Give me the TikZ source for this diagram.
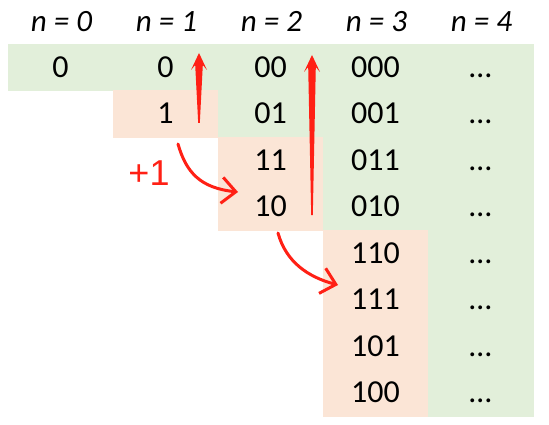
\documentclass[tikz,border=0pt]{standalone}
\usepackage{fontspec}
\setmainfont{Carlito}
\newfontfamily\inkfont{Liberation Sans}
\usepackage{xcolor}
\usepackage{tikz}
\usetikzlibrary{arrows.meta,calc}
\definecolor{cKeepF}{HTML}{E2EFDA}
\definecolor{cFlipF}{HTML}{FBE5D6}
\definecolor{cInk}{HTML}{FF2015}
\tikzset{
  grbox/.style={minimum width=105pt,minimum height=46.5pt,inner sep=0pt,
      text height=20pt,text depth=0pt,font=\fontsize{32}{32}\selectfont},
  grkeep/.style={grbox,fill=cKeepF,draw=cKeepF,line width=0.5pt},
  grflip/.style={grbox,fill=cFlipF,draw=cFlipF,line width=0.5pt},
  grhead/.style={inner sep=0pt,font=\fontsize{31}{31}\selectfont\itshape},
  inkarc/.style={draw=cInk,line width=3pt,line cap=round,
      -{Straight Barb[length=14pt,width=26pt]}},
  inklab/.style={inner sep=0pt,text=cInk,font=\inkfont\fontsize{36}{36}\selectfont},
}
\newcommand{\gcell}[5]{\node[#4] (#1) at ({60.5+105*#2},{67.25+46.5*#3}) {#5};}
\newcommand{\inkup}[2]{\fill[cInk] ($(#1)+(-0.8,0)$) -- ($(#2)+(-3.8,12)$)
  -- ($(#2)+(-8,17)$) -- (#2) -- ($(#2)+(8,17)$) -- ($(#2)+(3.8,12)$)
  -- ($(#1)+(0.8,0)$) -- cycle;}
\begin{document}
\begin{tikzpicture}[x=1pt,y=-1pt]
  \fill[white] (0,0) rectangle (549,425);
  \useasboundingbox (0,0) rectangle (549,425);

  \foreach \k in {0,...,4}{\node[grhead] (h\k) at ({61.5+105*\k},21.5) {n = \k};}

  \gcell{a0}{0}{0}{grkeep}{0}
  \gcell{b0}{1}{0}{grkeep}{0}
  \gcell{b1}{1}{1}{grflip}{1}
  \gcell{c0}{2}{0}{grkeep}{00}
  \gcell{c1}{2}{1}{grkeep}{01}
  \gcell{c2}{2}{2}{grflip}{11}
  \gcell{c3}{2}{3}{grflip}{10}
  \gcell{d0}{3}{0}{grkeep}{000}
  \gcell{d1}{3}{1}{grkeep}{001}
  \gcell{d2}{3}{2}{grkeep}{011}
  \gcell{d3}{3}{3}{grkeep}{010}
  \gcell{d4}{3}{4}{grflip}{110}
  \gcell{d5}{3}{5}{grflip}{111}
  \gcell{d6}{3}{6}{grflip}{101}
  \gcell{d7}{3}{7}{grflip}{100}
  \foreach \r in {0,...,7}{\gcell{e\r}{4}{\r}{grkeep}{…}}

  \coordinate (u1tail) at (199,123); \coordinate (u1tip) at (199,53);
  \coordinate (u2tail) at (312,215); \coordinate (u2tip) at (312,55);
  \coordinate (s1a) at (178,144);    \coordinate (s1b) at (238,192);
  \coordinate (s2a) at (278,233);    \coordinate (s2b) at (338,285);

  \inkup{u1tail}{u1tip}
  \inkup{u2tail}{u2tip}
  \draw[inkarc] (s1a) .. controls (186,172) and (200,188) .. (s1b);
  \draw[inkarc] (s2a) .. controls (286,262) and (308,277) .. (s2b);
  \node[inklab] (plus) at (149,173) {+1};
\end{tikzpicture}
\end{document}
